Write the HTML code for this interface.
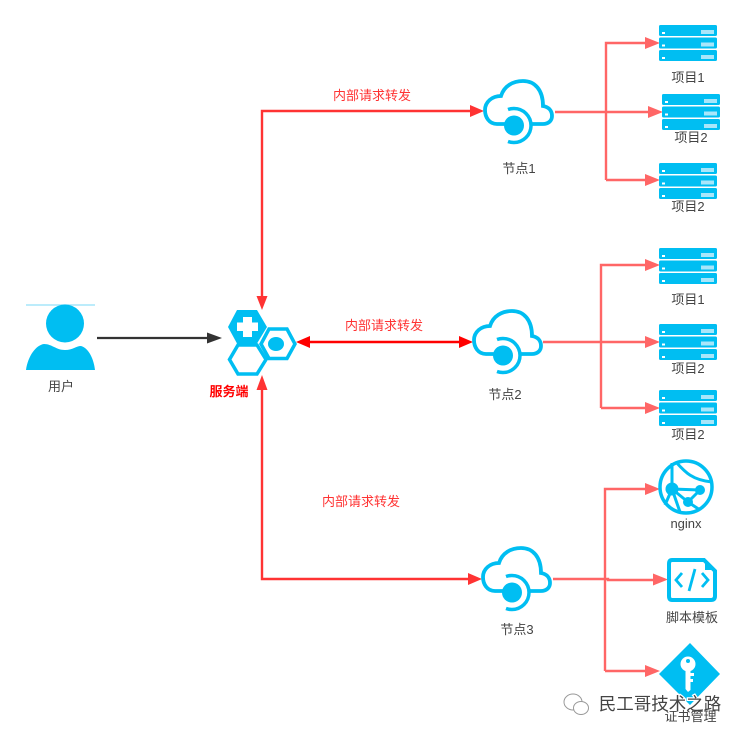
<!DOCTYPE html>
<html><head><meta charset="utf-8">
<style>
html,body{margin:0;padding:0;background:#fff}
svg{display:block;filter:blur(.35px)}
text{font-family:"Liberation Sans","Noto Sans CJK SC",sans-serif;font-size:13px;fill:#444;text-anchor:middle}
.r{fill:#ff3333}
</style></head><body>
<svg width="746" height="737" viewBox="0 0 746 737" xmlns="http://www.w3.org/2000/svg">
<defs>
<g id="srv">
<rect x="0" y="0" width="58" height="11" rx="1.5" fill="#00bef2"/>
<rect x="0" y="12.500" width="58" height="11" rx="1.500" fill="#00bef2"/>
<rect x="0" y="25" width="58" height="11" rx="1.500" fill="#00bef2"/>
<g fill="#fff"><rect x="3" y="7" width="3" height="2"/><rect x="3" y="19.500" width="3" height="2"/><rect x="3" y="32" width="3" height="2"/></g>
<g fill="#a8e6fa"><rect x="42" y="5" width="13" height="4"/><rect x="42" y="17.500" width="13" height="4"/><rect x="42" y="30" width="13" height="4"/></g>
</g>
<g id="cloud">
<path d="M24 46L14 46C6 46 2 39 2 32C2 24 9 18 18 18C21 8 30 3 40 3C52 3 60 12 60 28C66 29 69 33 69 38C69 43 65 46 60 46L49 46" fill="none" stroke="#00bef2" stroke-width="3.800"/>
<circle cx="31" cy="47.500" r="10" fill="#00bef2"/>
<path d="M25 31.500A17 17 0 0 1 31 30.500A17 17 0 0 1 31 64.500A17 17 0 0 1 25 63.500" fill="none" stroke="#00bef2" stroke-width="3.500"/>
</g>
</defs>

<!-- user -->
<line x1="26" y1="305" x2="95" y2="305" stroke="#a5e5fa" stroke-width="1.500"/>
<circle cx="65" cy="323.500" r="19" fill="#00bef2"/>
<path d="M26 370C28 356 36 345 44 344C52 344 56 350 65 350C73 350 76 346 81 346C89 348 94 360 95 370Z" fill="#00bef2"/>
<text x="61" y="391">用户</text>
<line x1="97" y1="338" x2="210" y2="338" stroke="#333" stroke-width="2.200"/>
<path d="M207 332.500L222 338L207 343.500Z" fill="#333"/>

<!-- hub -->
<path d="M237 310H257L267 327L257 343.500H237L228 327Z" fill="#00bef2"/>
<path d="M243 317H252V322.500H258V331H252V337H243V331H237V322.500H243Z" fill="#fff"/>
<path d="M269 329H287L295 344L287 358.500H269L261 344Z" fill="#fff" stroke="#00bef2" stroke-width="3.500"/>
<ellipse cx="276" cy="344" rx="8" ry="7" fill="#00bef2"/>
<path d="M238 345H257L266 359.500L257 374H238L229.500 359.500Z" fill="#fff" stroke="#00bef2" stroke-width="3.500"/>
<text x="229" y="396" style="font-weight:bold;fill:#f00">服务端</text>

<!-- main connectors -->
<path d="M262 298V111H472" fill="none" stroke="#ff3333" stroke-width="2.400"/>
<path d="M256.500 296L262 310L267.500 296Z" fill="#ff3333"/>
<path d="M470 105L484 111L470 117Z" fill="#ff3333"/>
<path d="M262 388V579H470" fill="none" stroke="#ff3333" stroke-width="2.400"/>
<path d="M256.500 390L262 375L267.500 390Z" fill="#ff3333"/>
<path d="M468 573L482 579L468 585Z" fill="#ff3333"/>
<line x1="306" y1="342" x2="462" y2="342" stroke="#f00" stroke-width="2.400"/>
<path d="M310 336L296 342L310 348Z" fill="#f00"/>
<path d="M459 336L473 342L459 348Z" fill="#f00"/>
<text x="372" y="100" class="r">内部请求转发</text>
<text x="384" y="330" class="r">内部请求转发</text>
<text x="361" y="506" class="r">内部请求转发</text>

<!-- clouds -->
<use href="#cloud" x="483" y="78"/>
<use href="#cloud" x="472" y="308"/>
<use href="#cloud" x="481" y="545"/>
<text x="519" y="173">节点1</text>
<text x="505" y="399">节点2</text>
<text x="517" y="634">节点3</text>

<!-- branch connectors -->
<g fill="none" stroke="#ff6666" stroke-width="2.400">
<path d="M555 112H648M606 180V43H646M606 180H646"/>
<path d="M543 342H646M601 408V265H646M601 408H646"/>
<path d="M553 579H608V580H654M605 671V489H646M605 671H646"/>
</g>
<g fill="#ff6666">
<path d="M645 37L660 43L645 49Z"/><path d="M648 106L663 112L648 118Z"/><path d="M645 174L660 180L645 186Z"/>
<path d="M645 259L660 265L645 271Z"/><path d="M645 336L660 342L645 348Z"/><path d="M645 402L660 408L645 414Z"/>
<path d="M645 483L660 489L645 495Z"/><path d="M653 573.500L668 579.500L653 585.500Z"/><path d="M645 665L660 671L645 677Z"/>
</g>

<!-- servers -->
<use href="#srv" x="659" y="25"/>
<use href="#srv" x="662" y="94"/>
<use href="#srv" x="659" y="163"/>
<use href="#srv" x="659" y="248"/>
<use href="#srv" x="659" y="324"/>
<use href="#srv" x="659" y="390"/>
<text x="688" y="82">项目1</text>
<text x="691" y="142">项目2</text>
<text x="688" y="211">项目2</text>
<text x="688" y="304">项目1</text>
<text x="688" y="373">项目2</text>
<text x="688" y="439">项目2</text>

<!-- nginx globe -->
<circle cx="686" cy="487" r="26" fill="#fff" stroke="#00bef2" stroke-width="3.500"/>
<g stroke="#00bef2" stroke-width="3" fill="none">
<path d="M672 489L700 490M672 489L688 502M700 490L688 502"/>
<path d="M672 463L672 489L665 505M676 462C685 472 692 480 712 482M672 489L680 512M688 502L700 510"/>
</g>
<circle cx="672" cy="489" r="6.500" fill="#00bef2"/>
<circle cx="700" cy="490" r="5" fill="#00bef2"/>
<circle cx="688" cy="502" r="5" fill="#00bef2"/>
<text x="686" y="528">nginx</text>

<!-- script -->
<path d="M672 560H704L715 571V596Q715 600 711 600H672Q669 600 669 596V564Q669 560 672 560Z" fill="#fff" stroke="#00bef2" stroke-width="4"/>
<path d="M705 560V570H716Z" fill="#00bef2"/>
<path d="M682 573L676 580L682 587M702 573L708 580L702 587M695 569L689 591" fill="none" stroke="#00bef2" stroke-width="2.800"/>
<text x="692" y="622">脚本模板</text>

<!-- cert -->
<path d="M690 643L720 674L690 705L659 674Z" fill="#00bef2"/>
<circle cx="688" cy="664" r="7.500" fill="#fff"/>
<circle cx="688" cy="661" r="2" fill="#00bef2"/>
<path d="M685.500 669H690.500V673H694V676H690.500V679H693V682H690.500V690L688 692L685.500 689Z" fill="#fff"/>

<!-- watermark -->
<g fill="#fff" stroke="#999" stroke-width="1">
<ellipse cx="573" cy="702" rx="9" ry="8"/>
<ellipse cx="581" cy="708" rx="7.500" ry="6.500"/>
</g>
<text x="660" y="710" style="font-size:17.500px;fill:#444;stroke:#fff;stroke-width:2.500;paint-order:stroke">民工哥技术之路</text>
<text x="690.500" y="721">证书管理</text>
</svg>
</body></html>
